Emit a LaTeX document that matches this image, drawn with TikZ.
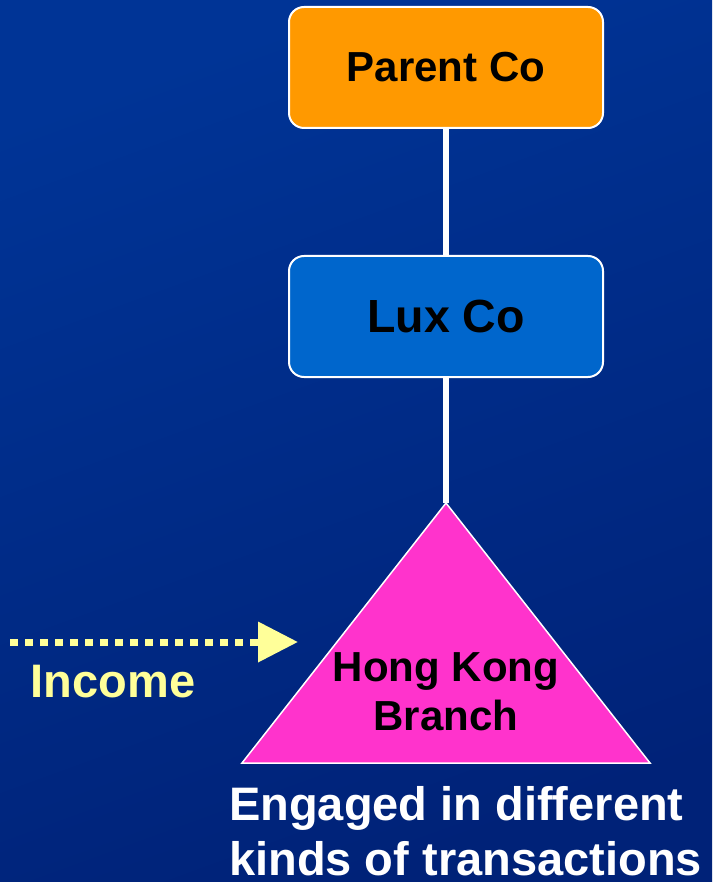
\documentclass[tikz,border=0pt]{standalone}
\usepackage{fontspec}
\setmainfont{Liberation Sans}
\usepackage{tikz}
\usetikzlibrary{positioning,arrows.meta}
\definecolor{slideblue}{RGB}{0,52,150}
\definecolor{slidedark}{RGB}{0,34,120}
\definecolor{parentorange}{RGB}{255,153,0}
\definecolor{luxblue}{RGB}{0,102,204}
\definecolor{branchpink}{RGB}{255,51,204}
\definecolor{incomeyellow}{RGB}{255,255,153}

\begin{document}
\begin{tikzpicture}[
  x=1pt,y=1pt,
  node distance=126pt,
  entity/.style={rectangle,rounded corners=15pt,minimum width=314pt,minimum height=121pt,
                 draw=white,line width=2pt,text=black,font=\bfseries\fontsize{42}{49}\selectfont},
  link/.style={white,line width=6.5pt},
  income/.style={incomeyellow,line width=7pt,dash pattern=on 8pt off 7pt,
                 -{Triangle[length=40pt,width=39pt]}}
]
\useasboundingbox (0,0) rectangle (712,-882);
\shade[top color=slideblue,bottom color=slidedark,shading angle=20] (0,0) rectangle (712,-882);
\node[entity,fill=parentorange] (parent) at (446,-67.5) {Parent Co};
\node[entity,fill=luxblue,below=of parent,font=\bfseries\fontsize{46.5}{52}\selectfont] (lux) {Lux Co};
\coordinate (apex) at (446,-503);
\draw[link] (parent) -- (lux);
\draw[link] (lux) -- (apex);
\filldraw[fill=branchpink,draw=white,line width=1.5pt] (apex) -- (242,-763) -- (650,-763) -- cycle;
\node[align=center,text=black,font=\bfseries\fontsize{42}{49}\selectfont] (branch) at (446,-692)
  {Hong Kong\\Branch};
\coordinate (src) at (10,-642);
\coordinate (tip) at (298,-642);
\draw[income] (src) -- (tip);
\node[text=incomeyellow,font=\bfseries\fontsize{47}{52}\selectfont] (incomelabel) at (113,-681.5) {Income};
\node[text=white,anchor=north west,inner sep=0pt,align=left,font=\bfseries\fontsize{47}{55}\selectfont]
  (note) at (229,-786) {Engaged in different\\kinds of transactions};
\end{tikzpicture}
\end{document}
